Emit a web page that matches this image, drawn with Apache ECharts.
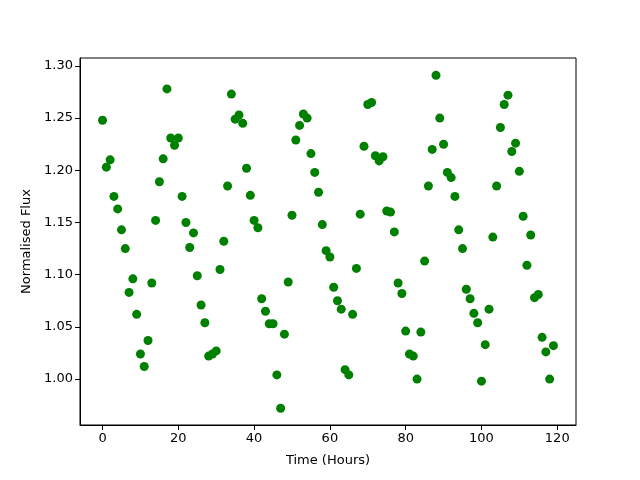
<!DOCTYPE html>
<html>
<head>
<meta charset="utf-8">
<script src="https://cdn.jsdelivr.net/npm/echarts@6/dist/echarts.min.js"></script>
<style>html,body{margin:0;padding:0;background:#fff;}#c{width:640px;height:480px;}</style>
</head>
<body>
<div id="c"></div>
<script>
const hours = [];
for (let i = 0; i < 120; i++) hours.push(i);
const flux = [
1.248,1.203,1.210,1.175,1.163,1.143,1.125,1.083,1.096,1.062,
1.024,1.012,1.037,1.092,1.152,1.189,1.211,1.278,1.231,1.224,
1.231,1.175,1.150,1.126,1.140,1.099,1.071,1.054,1.022,1.024,
1.027,1.105,1.132,1.185,1.273,1.249,1.253,1.245,1.202,1.176,
1.152,1.145,1.077,1.065,1.053,1.053,1.004,0.972,1.043,1.093,
1.157,1.229,1.243,1.254,1.250,1.216,1.198,1.179,1.148,1.123,
1.117,1.088,1.075,1.067,1.009,1.004,1.062,1.106,1.158,1.223,
1.263,1.265,1.214,1.209,1.213,1.161,1.160,1.141,1.092,1.082,
1.046,1.024,1.022,1.000,1.045,1.113,1.185,1.220,1.291,1.250,
1.225,1.198,1.193,1.175,1.143,1.125,1.086,1.077,1.063,1.054,
0.998,1.033,1.067,1.136,1.185,1.241,1.263,1.272,1.218,1.226,
1.199,1.156,1.109,1.138,1.078,1.081,1.040,1.026,1.000,1.032
];
const xTicks = [0,20,40,60,80,100,120];
const yTicks = [1.00,1.05,1.10,1.15,1.20,1.25,1.30];

const chart = echarts.init(document.getElementById('c'), null, {renderer:'canvas'});
const font = 'DejaVu Sans';
chart.setOption({
  animation: false,
  backgroundColor: '#fff',
  grid: {left:80, right:64, top:58, bottom:55, show:true, borderColor:'#000', borderWidth:1, backgroundColor:'transparent'},
  xAxis: {
    type:'value', min:-5.95, max:124.95,
    name:'Time (Hours)', nameLocation:'middle', nameGap:29,
    nameTextStyle:{fontFamily:font, fontSize:13, color:'#000'},
    axisLine:{show:true, onZero:false, lineStyle:{color:'#000', width:1}},
    axisTick:{show:true, length:5, lineStyle:{color:'#000'}, customValues:xTicks},
    axisLabel:{fontFamily:font, fontSize:13, color:'#000', margin:7, customValues:xTicks, formatter: v => String(v)},
    splitLine:{show:false}
  },
  yAxis: {
    type:'value', min:0.956, max:1.3076,
    name:'Normalised Flux', nameLocation:'middle', nameGap:46,
    nameTextStyle:{fontFamily:font, fontSize:13, color:'#000'},
    axisLine:{show:true, onZero:false, lineStyle:{color:'#000', width:1}},
    axisTick:{show:true, length:5, lineStyle:{color:'#000'}, customValues:yTicks},
    axisLabel:{fontFamily:font, fontSize:13, color:'#000', margin:7, customValues:yTicks, formatter: v => v.toFixed(2)},
    splitLine:{show:false}
  },
  series: [{
    type:'scatter',
    data: hours.map((h,i) => [h, flux[i]]),
    symbol:'circle', symbolSize:9,
    itemStyle:{color:'#008000', opacity:1}
  }]
});
</script>
</body>
</html>
